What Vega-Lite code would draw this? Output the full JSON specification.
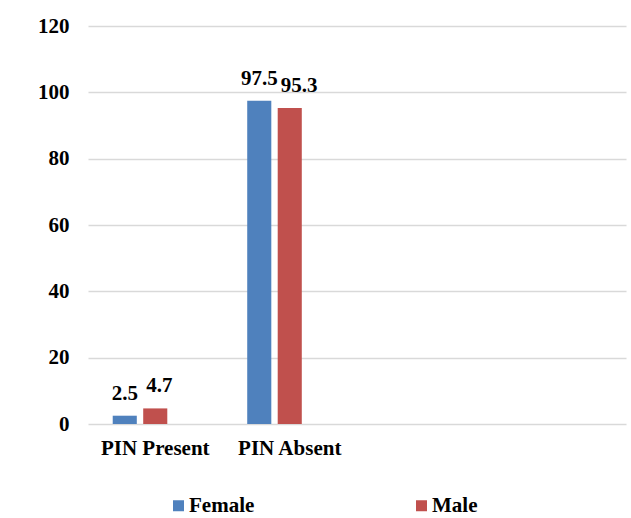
{
  "$schema": "https://vega.github.io/schema/vega-lite/v6.json",
  "width": 538,
  "height": 398,
  "autosize": {"type": "none"},
  "padding": {"left": 88, "top": 26, "right": 5, "bottom": 94},
  "background": "white",
  "config": {
    "view": {"stroke": null},
    "font": "Liberation Serif",
    "text": {"font": "Liberation Serif"}
  },
  "data": {
    "values": [
      {"category": "PIN Present", "sex": "Female", "value": 2.5},
      {"category": "PIN Present", "sex": "Male", "value": 4.7},
      {"category": "PIN Absent", "sex": "Female", "value": 97.5},
      {"category": "PIN Absent", "sex": "Male", "value": 95.3}
    ]
  },
  "encoding": {
    "x": {
      "field": "category",
      "type": "nominal",
      "sort": null,
      "scale": {
        "domain": ["PIN Present", "PIN Absent", "_c3", "_c4"],
        "paddingInner": 0.32,
        "paddingOuter": 0.16
      },
      "axis": {
        "title": null,
        "labelAngle": 0,
        "labelExpr": "indexof(['_c3','_c4'], datum.value) >= 0 ? '' : datum.value",
        "domain": false,
        "ticks": false,
        "labelFont": "Liberation Serif",
        "labelFontWeight": "bold",
        "labelFontSize": 21,
        "labelColor": "black",
        "labelPadding": 13
      }
    },
    "xOffset": {
      "field": "sex",
      "type": "nominal",
      "scale": {
        "domain": ["Female", "Male", "_s3"],
        "paddingInner": 0.21,
        "paddingOuter": 0.105
      }
    },
    "y": {
      "field": "value",
      "type": "quantitative",
      "scale": {"domain": [0, 120], "nice": false},
      "axis": {
        "title": null,
        "values": [0, 20, 40, 60, 80, 100, 120],
        "domain": false,
        "ticks": false,
        "grid": true,
        "gridColor": "#d9d9d9",
        "gridWidth": 1.5,
        "labelFont": "Liberation Serif",
        "labelFontWeight": "bold",
        "labelFontSize": 21,
        "labelColor": "black",
        "labelPadding": 19
      }
    }
  },
  "layer": [
    {
      "mark": {"type": "bar"},
      "encoding": {
        "color": {
          "field": "sex",
          "type": "nominal",
          "scale": {"domain": ["Female", "Male"], "range": ["#4F81BD", "#C0504D"]},
          "legend": {
            "title": null,
            "orient": "none",
            "direction": "horizontal",
            "legendX": 80,
            "legendY": 469,
            "padding": 0,
            "symbolType": "square",
            "symbolSize": 121,
            "symbolStrokeWidth": 0,
            "symbolOpacity": 1,
            "labelFont": "Liberation Serif",
            "labelFontWeight": "bold",
            "labelFontSize": 21,
            "labelColor": "black",
            "labelOffset": 0,
            "columnPadding": 156,
            "labelLimit": 200
          }
        }
      }
    },
    {
      "transform": [{"filter": "datum.sex === 'Female'"}],
      "mark": {
        "type": "text",
        "baseline": "alphabetic",
        "align": "center",
        "dy": -16,
        "font": "Liberation Serif",
        "fontWeight": "bold",
        "fontSize": 21,
        "color": "black"
      },
      "encoding": {
        "text": {"field": "value", "type": "quantitative", "format": ".1f"}
      }
    },
    {
      "transform": [{"filter": "datum.sex === 'Male'"}],
      "mark": {
        "type": "text",
        "baseline": "alphabetic",
        "align": "left",
        "dx": -9,
        "dy": -16,
        "font": "Liberation Serif",
        "fontWeight": "bold",
        "fontSize": 21,
        "color": "black"
      },
      "encoding": {
        "text": {"field": "value", "type": "quantitative", "format": ".1f"}
      }
    }
  ]
}
